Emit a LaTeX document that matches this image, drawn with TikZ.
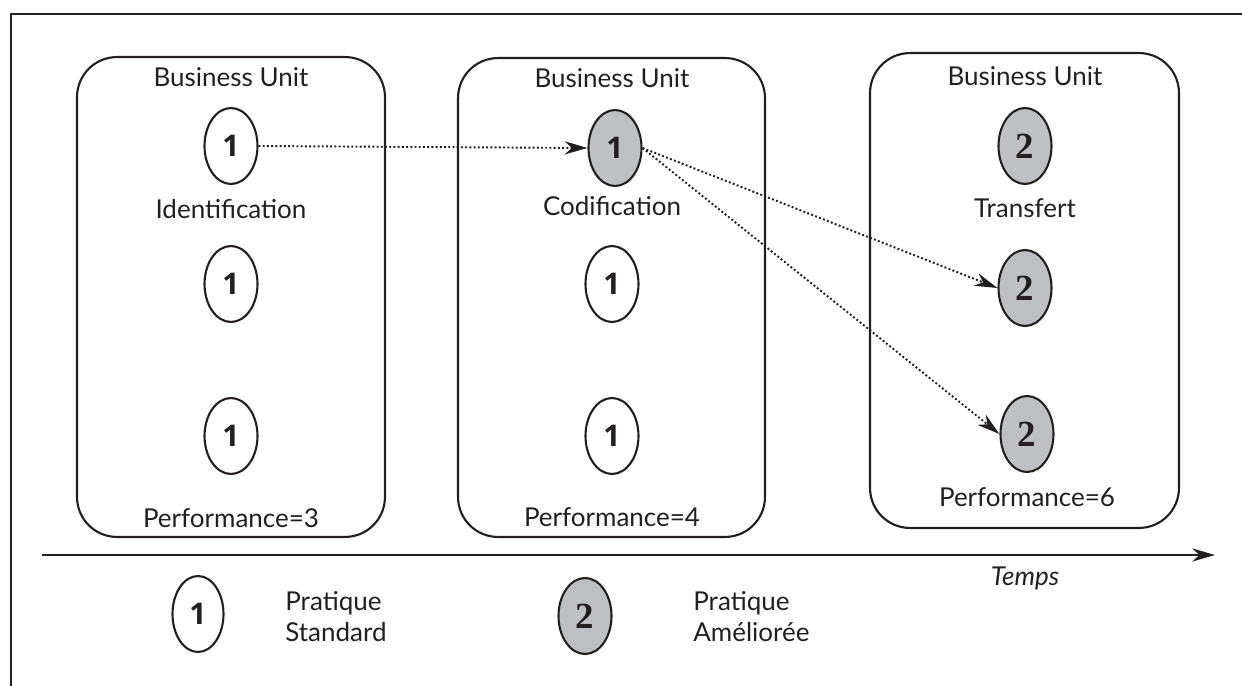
\documentclass[tikz,border=0pt]{standalone}
\usepackage{fontspec}
\setmainfont{Lato}
\newfontfamily\onefont{Open Sans}
\newfontfamily\numfont{Liberation Serif}
\usetikzlibrary{arrows.meta,shapes.geometric}
\definecolor{ink}{RGB}{35,31,32}
\definecolor{pfill}{RGB}{191,192,195}
\begin{document}
\begin{tikzpicture}[x=0.02cm,y=-0.02cm,
  bu/.style={draw=ink,line width=1.2pt,rounded corners=0.8cm,inner sep=0pt},
  pr/.style={ellipse,draw=ink,line width=1.2pt,minimum width=1.06cm,minimum height=1.52cm,inner sep=0pt,text=ink,font=\onefont\bfseries\fontsize{17}{17}\selectfont},
  prB/.style={pr,fill=pfill,font=\numfont\bfseries\fontsize{21}{21}\selectfont},
  lbl/.style={text=ink,font=\fontsize{14.8}{17.6}\selectfont,inner sep=0pt},
  flow/.style={draw=ink,line width=1.1pt,dash pattern=on 1.1pt off 1.3pt,-{Stealth[length=13pt,width=7.5pt]}},
  axis/.style={draw=ink,line width=1.3pt,-{Stealth[length=13pt,width=7.5pt]}}
]
\useasboundingbox (0,0) rectangle (1242,686);
% outer frame
\draw[ink,line width=1.5pt] (11,686) -- (11,14) -- (1242,14);

% business units
\node[bu,minimum width=6.16cm,minimum height=9.6cm] (u1) at (231,297) {};
\node[bu,minimum width=6.14cm,minimum height=9.58cm] (u2) at (611.5,297.5) {};
\node[bu,minimum width=6.18cm,minimum height=9.5cm] (u3) at (1024.5,290.5) {};

% unit 1
\node[lbl] (u1t) at (231,77) {Business Unit};
\node[pr] (a1) at (231,146) {1};
\node[lbl] (a1l) at (231,209) {Identification};
\node[pr] (a2) at (231,284) {1};
\node[pr] (a3) at (231,436) {1};
\node[lbl] (u1p) at (231,518) {Performance=3};

% unit 2
\node[lbl] (u2t) at (612,78) {Business Unit};
\node[pr,fill=pfill] (b1) at (615,148) {1};
\node[lbl] (b1l) at (612,206) {Codification};
\node[pr] (b2) at (612,284) {1};
\node[pr] (b3) at (612,436) {1};
\node[lbl] (u2p) at (612,517) {Performance=4};

% unit 3
\node[lbl] (u3t) at (1025,76) {Business Unit};
\node[prB] (c1) at (1025,146) {2};
\node[lbl] (c1l) at (1025,208) {Transfert};
\node[prB] (c2) at (1025,288) {2};
\node[prB] (c3) at (1027,434) {2};
\node[lbl] (u3p) at (1027,497) {Performance=6};

% flows
\draw[flow] (a1.east) -- (b1.west);
\draw[flow] (b1.east) -- (c2.west);
\draw[flow] (b1.east) -- (c3.west);

% time axis
\coordinate (t0) at (42,555);
\coordinate (t1) at (1215,555);
\draw[axis] (t0) -- (t1);
\node[lbl,font=\fontsize{14.8}{16}\selectfont\itshape] (temps) at (1025,578) {Temps};

% legend
\node[pr,minimum width=1.02cm] (l1) at (198,614) {1};
\node[lbl,anchor=west,align=left] (l1t) at (285,617) {Pratique\\Standard};
\node[prB] (l2) at (585,616) {2};
\node[lbl,anchor=west,align=left] (l2t) at (693,617) {Pratique\\Améliorée};
\end{tikzpicture}
\end{document}
